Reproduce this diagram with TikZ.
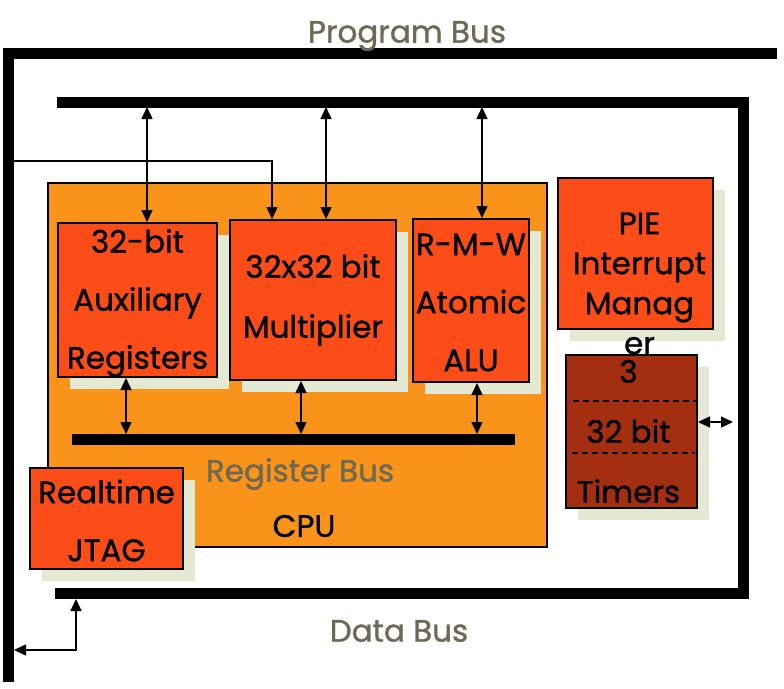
\documentclass[tikz,border=0pt]{standalone}
\usepackage{fontspec}
\setmainfont{Poppins}[FakeBold=1.1]
\usetikzlibrary{arrows.meta,shadows}

\definecolor{cpuorange}{HTML}{F99319}
\definecolor{blockred}{HTML}{FC4C18}
\definecolor{timerred}{HTML}{A42E10}
\definecolor{shadowgreen}{HTML}{E4E9D3}
\definecolor{busgrey}{HTML}{6D6953}

\begin{document}
\begin{tikzpicture}[x=1pt,y=-1pt,
    blk/.style={draw,line width=2pt,fill=blockred,inner sep=0pt,anchor=north west,
      drop shadow={shadow xshift=12pt,shadow yshift=-12pt,fill=shadowgreen,opacity=1}},
    lbl/.style={align=center,font=\fontsize{31}{58}\selectfont},
    buslbl/.style={text=busgrey,font=\fontsize{31}{34}\selectfont},
    bus/.style={line width=11pt},
    both/.style={line width=1.5pt,{Triangle[length=12pt,width=11pt]}-{Triangle[length=12pt,width=11pt]}},
    one/.style={line width=1.5pt,-{Triangle[length=12pt,width=11pt]}}]
        \useasboundingbox (0,0) rectangle (784,688);

        % Program bus and data bus
        \draw[bus] (8,682) -- (8,53) -- (777,53);
        \draw[bus] (57,102) -- (743,102) -- (743,593) -- (55,593);

        % CPU
        \node[draw,line width=1.5pt,fill=cpuorange,inner sep=0pt,anchor=north west,
          minimum width=499pt,minimum height=364pt] (cpu) at (47,182) {};
        \draw[bus] (72,439.5) -- (515,439.5);

        % Blocks
        \node[blk,minimum width=159pt,minimum height=154pt] (aux) at (57,222) {};
        \node[blk,minimum width=166pt,minimum height=160pt] (mult) at (229,219) {};
        \node[blk,minimum width=116pt,minimum height=163pt] (rmw) at (412,218) {};
        \node[blk,minimum width=155pt,minimum height=151pt] (pie) at (557,177) {};
        \node[blk,fill=timerred,minimum width=131pt,minimum height=153pt] (tim) at (565,354) {};
        \node[blk,minimum width=153pt,minimum height=101pt] (jtag) at (29,467) {};
        \draw[dash pattern=on 6pt off 4pt,line width=1.2pt] (573,401) -- (698,401);
        \draw[dash pattern=on 6pt off 4pt,line width=1.2pt] (572,453) -- (695,453);

        % Texts
        \node[lbl] (auxtext) at ([yshift=-3pt]aux.center) {32-bit\\Auxiliary\\Registers};
        \node[lbl,font=\fontsize{31}{60}\selectfont] (multtext) at (mult.center) {32x32 bit\\Multiplier};
        \node[lbl] (rmwtext) at ([yshift=-2pt]rmw.center) {R-M-W\\Atomic\\ALU};
        \node[lbl,font=\fontsize{31}{40}\selectfont] (pietext) at ([xshift=4pt,yshift=-30pt]pie.center) {PIE\\Interrupt\\Manag\\er};
        \node[lbl,font=\fontsize{31}{60}\selectfont] (timtext) at ([xshift=-3pt]tim.center) {3\\32 bit\\Timers};
        \node[lbl] (jtagtext) at ([yshift=-2pt]jtag.center) {Realtime\\JTAG};
        \node[buslbl] (rbus) at (300,474) {Register Bus};
        \node[lbl] (cputext) at (304,526) {CPU};
        \node[buslbl] (pbus) at (407,36) {Program Bus};
        \node[buslbl] (dbus) at (399,631) {Data Bus};

        % Connectors
        \coordinate (pa) at (147,107);
        \coordinate (pb) at (326,107);
        \coordinate (pc) at (482,107);
        \draw[both] (pa) -- (pa |- aux.north);
        \draw[both] (pb) -- (pb |- mult.north);
        \draw[both] (pc) -- (pc |- rmw.north);
        \coordinate (pin) at (13,161);
        \coordinate (jog) at (272,161);
        \draw[one] (pin) -| (jog |- mult.north);
        \coordinate (ra) at (126,434);
        \coordinate (rb) at (301,434);
        \coordinate (rc) at (477,434);
        \draw[both] (ra |- aux.south) -- (ra);
        \draw[both] (rb |- mult.south) -- (rb);
        \draw[both] (rc |- rmw.south) -- (rc);
        \coordinate (ta) at (733,422);
        \draw[both] (ta -| tim.east) -- (ta);
        \coordinate (da) at (76,599);
        \coordinate (db) at (14,650);
        \draw[both] (da) |- (db);
      \end{tikzpicture}
\end{document}
